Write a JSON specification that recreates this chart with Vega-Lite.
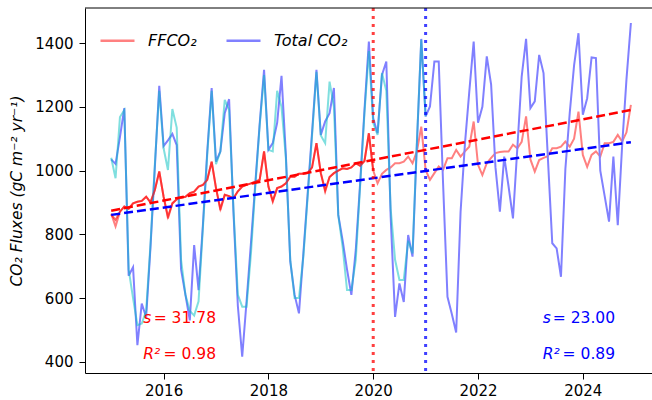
{
"$schema": "https://vega.github.io/schema/vega-lite/v6.json",
"width": 567, "height": 365,
"autosize": {"type": "none"},
"padding": {"left": 85, "top": 8, "right": 0, "bottom": 27},
"background": "white",
"config": {
 "view": {"stroke": null},
 "font": "DejaVu Sans",
 "axis": {"grid": false, "domainColor": "#000", "tickColor": "#000", "labelColor": "#000", "titleColor": "#000", "labelFont": "DejaVu Sans", "labelFontSize": 15, "tickSize": 6, "domainWidth": 1, "tickWidth": 1, "titleFont": "DejaVu Sans", "titleFontSize": 15.5, "titleFontWeight": "normal"}
},
"datasets": {
 "m": [
  {"t":2015.0,"ff":865,"tot":1035,"cy":1040,"fd":862},
  {"t":2015.083,"ff":825,"tot":1021,"cy":976,"fd":845},
  {"t":2015.167,"ff":871,"tot":1105,"cy":1168,"fd":871},
  {"t":2015.25,"ff":887,"tot":1196,"cy":1190,"fd":887},
  {"t":2015.333,"ff":880,"tot":670,"cy":690,"fd":880},
  {"t":2015.417,"ff":897,"tot":697,"cy":600,"fd":897},
  {"t":2015.5,"ff":902,"tot":452,"cy":515,"fd":902},
  {"t":2015.583,"ff":905,"tot":583,"cy":520,"fd":905},
  {"t":2015.667,"ff":918,"tot":540,"cy":560,"fd":918},
  {"t":2015.75,"ff":900,"tot":760,"cy":770,"fd":900},
  {"t":2015.833,"ff":939,"tot":1010,"cy":1020,"fd":939},
  {"t":2015.917,"ff":997,"tot":1266,"cy":1250,"fd":997},
  {"t":2016.0,"ff":918,"tot":1077,"cy":1070,"fd":918},
  {"t":2016.083,"ff":850,"tot":1095,"cy":1002,"fd":855},
  {"t":2016.167,"ff":897,"tot":1115,"cy":1193,"fd":897},
  {"t":2016.25,"ff":910,"tot":1080,"cy":1135,"fd":910},
  {"t":2016.333,"ff":915,"tot":690,"cy":720,"fd":915},
  {"t":2016.417,"ff":918,"tot":610,"cy":610,"fd":918},
  {"t":2016.5,"ff":929,"tot":530,"cy":560,"fd":929},
  {"t":2016.583,"ff":934,"tot":766,"cy":545,"fd":934},
  {"t":2016.667,"ff":950,"tot":625,"cy":590,"fd":950},
  {"t":2016.75,"ff":955,"tot":830,"cy":820,"fd":955},
  {"t":2016.833,"ff":971,"tot":1060,"cy":1050,"fd":971},
  {"t":2016.917,"ff":1028,"tot":1259,"cy":1250,"fd":1028},
  {"t":2017.0,"ff":945,"tot":1028,"cy":1020,"fd":945},
  {"t":2017.083,"ff":876,"tot":1060,"cy":1060,"fd":880},
  {"t":2017.167,"ff":924,"tot":1180,"cy":1222,"fd":924},
  {"t":2017.25,"ff":920,"tot":1224,"cy":1190,"fd":920},
  {"t":2017.333,"ff":913,"tot":870,"cy":880,"fd":913},
  {"t":2017.417,"ff":935,"tot":575,"cy":610,"fd":935},
  {"t":2017.5,"ff":950,"tot":416,"cy":573,"fd":950},
  {"t":2017.583,"ff":955,"tot":590,"cy":573,"fd":955},
  {"t":2017.667,"ff":960,"tot":773,"cy":740,"fd":960},
  {"t":2017.75,"ff":965,"tot":960,"cy":950,"fd":965},
  {"t":2017.833,"ff":971,"tot":1146,"cy":1140,"fd":971},
  {"t":2017.917,"ff":1060,"tot":1316,"cy":1300,"fd":1060},
  {"t":2018.0,"ff":950,"tot":1065,"cy":1065,"fd":950},
  {"t":2018.083,"ff":902,"tot":1086,"cy":1060,"fd":905},
  {"t":2018.167,"ff":945,"tot":1150,"cy":1250,"fd":945},
  {"t":2018.25,"ff":950,"tot":1297,"cy":1200,"fd":950},
  {"t":2018.333,"ff":960,"tot":1050,"cy":1040,"fd":960},
  {"t":2018.417,"ff":981,"tot":715,"cy":720,"fd":981},
  {"t":2018.5,"ff":981,"tot":610,"cy":600,"fd":981},
  {"t":2018.583,"ff":990,"tot":552,"cy":600,"fd":990},
  {"t":2018.667,"ff":990,"tot":740,"cy":730,"fd":990},
  {"t":2018.75,"ff":992,"tot":930,"cy":920,"fd":992},
  {"t":2018.833,"ff":1010,"tot":1120,"cy":1110,"fd":1010},
  {"t":2018.917,"ff":1086,"tot":1316,"cy":1310,"fd":1086},
  {"t":2019.0,"ff":992,"tot":1112,"cy":1110,"fd":992},
  {"t":2019.083,"ff":934,"tot":1154,"cy":1086,"fd":938},
  {"t":2019.167,"ff":980,"tot":1180,"cy":1279,"fd":980},
  {"t":2019.25,"ff":992,"tot":1259,"cy":1200,"fd":992},
  {"t":2019.333,"ff":1000,"tot":861,"cy":860,"fd":1000},
  {"t":2019.417,"ff":1007,"tot":780,"cy":760,"fd":1007},
  {"t":2019.5,"ff":1005,"tot":690,"cy":625,"fd":1005},
  {"t":2019.583,"ff":1010,"tot":610,"cy":625,"fd":1010},
  {"t":2019.667,"ff":1023,"tot":751,"cy":720,"fd":1023},
  {"t":2019.75,"ff":1015,"tot":960,"cy":950,"fd":1015},
  {"t":2019.833,"ff":1030,"tot":1190,"cy":1180,"fd":1030},
  {"t":2019.917,"ff":1117,"tot":1405,"cy":1375,"fd":1117},
  {"t":2020.0,"ff":1000,"tot":1164,"cy":1150,"fd":1000},
  {"t":2020.083,"ff":960,"tot":1117,"cy":1112},
  {"t":2020.167,"ff":990,"tot":1300,"cy":1306},
  {"t":2020.25,"ff":1002,"tot":1342,"cy":1250},
  {"t":2020.333,"ff":1010,"tot":855,"cy":880},
  {"t":2020.417,"ff":1023,"tot":541,"cy":720},
  {"t":2020.5,"ff":1023,"tot":646,"cy":657},
  {"t":2020.583,"ff":1028,"tot":588,"cy":657},
  {"t":2020.667,"ff":1044,"tot":798,"cy":780},
  {"t":2020.75,"ff":1023,"tot":730,"cy":740},
  {"t":2020.833,"ff":1060,"tot":1080,"cy":1090},
  {"t":2020.917,"ff":1138,"tot":1413,"cy":1410},
  {"t":2021.0,"ff":1002,"tot":1170,"cy":1170},
  {"t":2021.083,"ff":971,"tot":1201},
  {"t":2021.167,"ff":992,"tot":1342},
  {"t":2021.25,"ff":1013,"tot":1342},
  {"t":2021.333,"ff":1002,"tot":960},
  {"t":2021.417,"ff":1039,"tot":604},
  {"t":2021.5,"ff":1039,"tot":550},
  {"t":2021.583,"ff":1065,"tot":492},
  {"t":2021.667,"ff":1044,"tot":870},
  {"t":2021.75,"ff":1060,"tot":1083},
  {"t":2021.833,"ff":1075,"tot":1247},
  {"t":2021.917,"ff":1154,"tot":1405},
  {"t":2022.0,"ff":1018,"tot":1150},
  {"t":2022.083,"ff":986,"tot":1200},
  {"t":2022.167,"ff":1023,"tot":1358},
  {"t":2022.25,"ff":1040,"tot":1270},
  {"t":2022.333,"ff":1055,"tot":1010},
  {"t":2022.417,"ff":1058,"tot":871},
  {"t":2022.5,"ff":1060,"tot":1044},
  {"t":2022.583,"ff":1060,"tot":950},
  {"t":2022.667,"ff":1081,"tot":850},
  {"t":2022.75,"ff":1070,"tot":1070},
  {"t":2022.833,"ff":1090,"tot":1295},
  {"t":2022.917,"ff":1170,"tot":1413},
  {"t":2023.0,"ff":1035,"tot":1196},
  {"t":2023.083,"ff":997,"tot":1217},
  {"t":2023.167,"ff":1033,"tot":1363},
  {"t":2023.25,"ff":1040,"tot":1306},
  {"t":2023.333,"ff":1045,"tot":1040},
  {"t":2023.417,"ff":1070,"tot":772},
  {"t":2023.5,"ff":1070,"tot":756},
  {"t":2023.583,"ff":1075,"tot":667},
  {"t":2023.667,"ff":1091,"tot":1005},
  {"t":2023.75,"ff":1075,"tot":1180},
  {"t":2023.833,"ff":1100,"tot":1330},
  {"t":2023.917,"ff":1185,"tot":1431},
  {"t":2024.0,"ff":1049,"tot":1175},
  {"t":2024.083,"ff":1012,"tot":1227},
  {"t":2024.167,"ff":1049,"tot":1355},
  {"t":2024.25,"ff":1060,"tot":1353},
  {"t":2024.333,"ff":1044,"tot":1000},
  {"t":2024.417,"ff":1086,"tot":920},
  {"t":2024.5,"ff":1086,"tot":840},
  {"t":2024.583,"ff":1090,"tot":1044},
  {"t":2024.667,"ff":1112,"tot":829},
  {"t":2024.75,"ff":1091,"tot":1078},
  {"t":2024.833,"ff":1120,"tot":1287},
  {"t":2024.917,"ff":1206,"tot":1463}
 ],
 "tr": [
  {"t":2015.0,"rf":874,"bf":861},
  {"t":2024.917,"rf":1190,"bf":1089}
 ],
 "vl": [
  {"t":2020,"g":"ff"},
  {"t":2021,"g":"tot"}
 ],
 "ann": [
  {"g":"ff","xs":2015.613,"xe":2017.0,"y":537,"a":"s","b":"= 31.78"},
  {"g":"ff","xs":2015.613,"xe":2017.0,"y":425,"a":"R²","b":"= 0.98"},
  {"g":"tot","xs":2023.235,"xe":2024.615,"y":537,"a":"s","b":"= 23.00"},
  {"g":"tot","xs":2023.235,"xe":2024.615,"y":425,"a":"R²","b":"= 0.89"}
 ],
 "top": [{"y":1510}]
},
"layer": [
 {
  "data": {"name": "m"},
  "transform": [{"fold": ["ff", "tot"], "as": ["key", "val"]}],
  "mark": {"type": "line", "strokeWidth": 2},
  "encoding": {
   "x": {"field": "t", "type": "quantitative", "title": null, "scale": {"domain": [2014.5, 2025.32], "nice": false, "zero": false}, "axis": {"values": [2016, 2018, 2020, 2022, 2024], "format": "d", "labelPadding": 4, "labelFlush": false}},
   "y": {"field": "val", "type": "quantitative", "title": "CO₂ Fluxes (gC m⁻² yr⁻¹)", "scale": {"domain": [365, 1510], "nice": false, "zero": false}, "axis": {"values": [400, 600, 800, 1000, 1200, 1400], "format": "d", "labelPadding": 6, "titleFontStyle": "italic", "titlePadding": 10}},
   "color": {"field": "key", "type": "nominal", "scale": {"domain": ["ff", "tot"], "range": ["#ff8080", "#8080ff"]},
    "legend": {"title": null, "orient": "none", "legendX": 14, "legendY": 14, "direction": "horizontal", "symbolType": "stroke", "symbolSize": 1156, "symbolStrokeWidth": 2.5, "labelFont": "DejaVu Sans", "labelFontSize": 16, "labelFontStyle": "italic", "labelColor": "#000", "labelOffset": 12, "columnPadding": 24, "labelExpr": "datum.label == 'ff' ? 'FFCO₂' : 'Total CO₂'"}}
  }
 },
 {
  "data": {"name": "m"},
  "transform": [{"filter": "isValid(datum.cy)"}],
  "mark": {"type": "line", "color": "#00bfbf", "opacity": 0.5, "strokeWidth": 2},
  "encoding": {
   "x": {"field": "t", "type": "quantitative", "title": null},
   "y": {"field": "cy", "type": "quantitative", "title": "CO₂ Fluxes (gC m⁻² yr⁻¹)"}
  }
 },
 {
  "data": {"name": "m"},
  "transform": [{"filter": "isValid(datum.fd)"}],
  "mark": {"type": "line", "color": "#ff0000", "opacity": 0.6, "strokeWidth": 2},
  "encoding": {
   "x": {"field": "t", "type": "quantitative", "title": null},
   "y": {"field": "fd", "type": "quantitative", "title": "CO₂ Fluxes (gC m⁻² yr⁻¹)"}
  }
 },
 {
  "data": {"name": "tr"},
  "mark": {"type": "line", "color": "#ff0000", "strokeWidth": 2.5, "strokeDash": [9, 4]},
  "encoding": {
   "x": {"field": "t", "type": "quantitative", "title": null},
   "y": {"field": "rf", "type": "quantitative", "title": "CO₂ Fluxes (gC m⁻² yr⁻¹)"}
  }
 },
 {
  "data": {"name": "tr"},
  "mark": {"type": "line", "color": "#0000ff", "strokeWidth": 2.5, "strokeDash": [9, 4]},
  "encoding": {
   "x": {"field": "t", "type": "quantitative", "title": null},
   "y": {"field": "bf", "type": "quantitative", "title": "CO₂ Fluxes (gC m⁻² yr⁻¹)"}
  }
 },
 {
  "data": {"name": "vl"},
  "transform": [{"filter": "datum.g == 'ff'"}],
  "mark": {"type": "rule", "color": "#ff0000", "opacity": 0.75, "strokeWidth": 3, "strokeDash": [3, 5]},
  "encoding": {"x": {"field": "t", "type": "quantitative", "title": null}}
 },
 {
  "data": {"name": "vl"},
  "transform": [{"filter": "datum.g == 'tot'"}],
  "mark": {"type": "rule", "color": "#0000ff", "opacity": 0.75, "strokeWidth": 3, "strokeDash": [3, 5]},
  "encoding": {"x": {"field": "t", "type": "quantitative", "title": null}}
 },
 {
  "data": {"name": "ann"},
  "transform": [{"filter": "datum.g == 'ff'"}],
  "mark": {"type": "text", "color": "#ff0000", "font": "DejaVu Sans", "fontSize": 15.5, "fontStyle": "italic", "align": "left", "baseline": "middle"},
  "encoding": {"x": {"field": "xs", "type": "quantitative", "title": null}, "y": {"field": "y", "type": "quantitative", "title": "CO₂ Fluxes (gC m⁻² yr⁻¹)"}, "text": {"field": "a"}}
 },
 {
  "data": {"name": "ann"},
  "transform": [{"filter": "datum.g == 'ff'"}],
  "mark": {"type": "text", "color": "#ff0000", "font": "DejaVu Sans", "fontSize": 15.5, "align": "right", "baseline": "middle"},
  "encoding": {"x": {"field": "xe", "type": "quantitative", "title": null}, "y": {"field": "y", "type": "quantitative", "title": "CO₂ Fluxes (gC m⁻² yr⁻¹)"}, "text": {"field": "b"}}
 },
 {
  "data": {"name": "ann"},
  "transform": [{"filter": "datum.g == 'tot'"}],
  "mark": {"type": "text", "color": "#0000ff", "font": "DejaVu Sans", "fontSize": 15.5, "fontStyle": "italic", "align": "left", "baseline": "middle"},
  "encoding": {"x": {"field": "xs", "type": "quantitative", "title": null}, "y": {"field": "y", "type": "quantitative", "title": "CO₂ Fluxes (gC m⁻² yr⁻¹)"}, "text": {"field": "a"}}
 },
 {
  "data": {"name": "ann"},
  "transform": [{"filter": "datum.g == 'tot'"}],
  "mark": {"type": "text", "color": "#0000ff", "font": "DejaVu Sans", "fontSize": 15.5, "align": "right", "baseline": "middle"},
  "encoding": {"x": {"field": "xe", "type": "quantitative", "title": null}, "y": {"field": "y", "type": "quantitative", "title": "CO₂ Fluxes (gC m⁻² yr⁻¹)"}, "text": {"field": "b"}}
 },
 {
  "data": {"name": "top"},
  "mark": {"type": "rule", "color": "#000", "strokeWidth": 1},
  "encoding": {"y": {"field": "y", "type": "quantitative", "title": "CO₂ Fluxes (gC m⁻² yr⁻¹)"}}
 }
]
}
